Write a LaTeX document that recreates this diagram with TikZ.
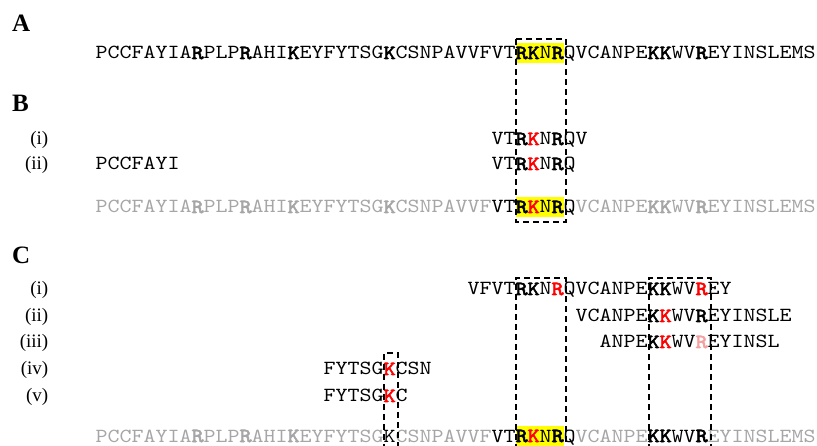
\documentclass[tikz,border=0pt]{standalone}
\usepackage{fontspec}
\setmainfont{Liberation Serif}
\newfontfamily\seqfont{lmmono10-regular}[Extension=.otf, FakeStretch=1.143, BoldFont=lmmono10-regular, BoldFeatures={FakeBold=3}]
\definecolor{seqgray}{RGB}{166,166,166}
\definecolor{hlred}{RGB}{255,0,0}
\definecolor{hlpink}{RGB}{245,160,160}
\definecolor{hlyellow}{RGB}{255,255,0}
\newcommand{\bb}[1]{\textbf{#1}}
\newcommand{\rr}[1]{\textcolor{hlred}{\textbf{#1}}}
\newcommand{\pk}[1]{\textcolor{hlpink}{\textbf{#1}}}
\newcommand{\bk}[1]{\textcolor{black}{#1}}
\tikzset{
  seq/.style={font=\seqfont\fontsize{20}{24}\selectfont, anchor=base west, inner sep=0pt, outer sep=0pt},
  grayseq/.style={seq, text=seqgray},
  panel/.style={font=\fontsize{25}{30}\selectfont\bfseries, anchor=base west, inner sep=0pt},
  rowlab/.style={font=\fontsize{19}{22}\selectfont, anchor=base east, inner sep=0pt},
  dbox/.style={draw=black, line width=1.7pt, dash pattern=on 6pt off 4pt},
  hl/.style={fill=hlyellow, draw=none}
}
\def\xo{95.6}
\begin{document}
\begin{tikzpicture}[x=1pt,y=-1pt]
\useasboundingbox (0,0) rectangle (817,446);
\clip (0,0) rectangle (817,446);
% highlights
\fill[hl] ({\xo+12*35},43) rectangle ({\xo+12*39},63);
\fill[hl] ({\xo+12*35},197) rectangle ({\xo+12*39},217);
\fill[hl] ({\xo+12*35},426) rectangle ({\xo+12*39},446);
% panel A
\node[panel] (labA) at (12,32) {A};
\node[seq] (seqA) at (\xo,59) {PCCFAYIA\bb{R}PLP\bb{R}AHI\bb{K}EYFYTSG\bb{K}CSNPAVVFVT\bb{RK}N\bb{R}QVCANPE\bb{KK}WV\bb{R}EYINSLEMS};
% panel B
\node[panel] (labB) at (12,112) {B};
\node[rowlab] (labBi) at (48.5,145) {(i)};
\node[rowlab] (labBii) at (48.5,170) {(ii)};
\node[seq] (bi) at ({\xo+12*33},145) {VT\bb{R}\rr{K}N\bb{R}QV};
\node[seq] (biia) at (\xo,170) {PCCFAYI};
\node[seq] (biib) at ({\xo+12*33},170) {VT\bb{R}\rr{K}N\bb{R}Q};
\node[grayseq] (seqB) at (\xo,213) {PCCFAYIA\bb{R}PLP\bb{R}AHI\bb{K}EYFYTSG\bb{K}CSNPAVVF\bk{VT\bb{R}}\rr{K}\bk{N\bb{R}Q}VCANPE\bb{KK}WV\bb{R}EYINSLEMS};
% panel C
\node[panel] (labC) at (12,264) {C};
\node[rowlab] (labCi) at (48.5,295) {(i)};
\node[rowlab] (labCii) at (48.5,322) {(ii)};
\node[rowlab] (labCiii) at (48.5,348) {(iii)};
\node[rowlab] (labCiv) at (48.5,375) {(iv)};
\node[rowlab] (labCv) at (48.5,402) {(v)};
\node[seq] (ci) at ({\xo+12*31},295) {VFVT\bb{RK}N\rr{R}QVCANPE\bb{KK}WV\rr{R}EY};
\node[seq] (cii) at ({\xo+12*40},322) {VCANPE\bb{K}\rr{K}WV\bb{R}EYINSLE};
\node[seq] (ciii) at ({\xo+12*42},348) {ANPE\bb{K}\rr{K}WV\pk{R}EYINSL};
\node[seq] (civ) at ({\xo+12*19},375) {FYTSG\rr{K}CSN};
\node[seq] (cv) at ({\xo+12*19},402) {FYTSG\rr{K}C};
\node[grayseq] (seqC) at (\xo,442) {PCCFAYIA\bb{R}PLP\bb{R}AHI\bb{K}EYFYTSG\bk{K}CSNPAVVF\bk{VT\bb{R}}\rr{K}\bk{N\bb{R}Q}VCANPE\bk{\bb{KK}WV\bb{R}}EYINSLEMS};
% dashed boxes
\draw[dbox] (516,39) rectangle (566,222);
\draw[dbox] (516,460) -- (516,278) -- (566,278) -- (566,460);
\draw[dbox] (649,460) -- (649,278) -- (711,278) -- (711,460);
\draw[dbox] (384,460) -- (384,353) -- (398,353) -- (398,460);
\end{tikzpicture}
\end{document}
